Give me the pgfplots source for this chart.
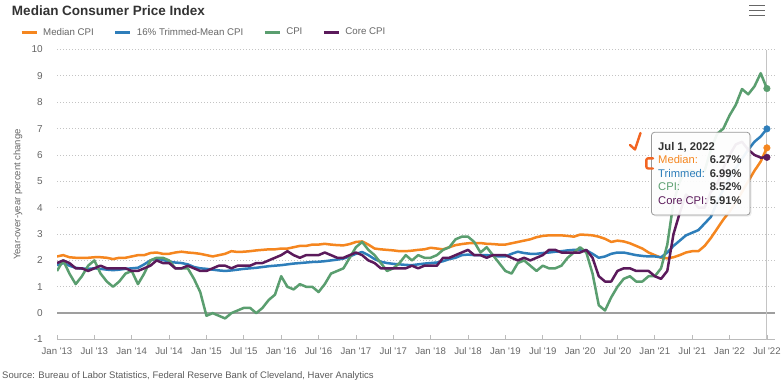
\documentclass[border=0pt]{standalone}
\usepackage{fontspec}
\setmainfont{Liberation Sans}[Ligatures=TeXOff]
\usepackage{pgfplots}
\pgfplotsset{compat=1.18}
\usepackage{pgfplotstable}

\definecolor{cMed}{HTML}{F5861F}
\definecolor{cTrim}{HTML}{2E7EBA}
\definecolor{cCPI}{HTML}{5A9E6F}
\definecolor{cCore}{HTML}{5B1A5B}
\definecolor{txtdark}{HTML}{333333}
\definecolor{txtgray}{HTML}{666666}
\definecolor{gridc}{HTML}{C4C4C4}
\definecolor{axisc}{HTML}{BBBBBB}
\definecolor{annot}{HTML}{F26522}

\pgfplotstableread{
m med trim cpi core
0 2.15 1.82 1.6 1.9
1 2.20 1.90 2.0 2.0
2 2.12 1.80 1.5 1.9
3 2.10 1.72 1.1 1.7
4 2.10 1.69 1.4 1.7
5 2.10 1.68 1.8 1.6
6 2.12 1.70 2.0 1.7
7 2.12 1.68 1.5 1.8
8 2.10 1.65 1.2 1.7
9 2.05 1.63 1.0 1.7
10 2.10 1.65 1.2 1.7
11 2.10 1.68 1.5 1.7
12 2.15 1.70 1.6 1.6
13 2.20 1.72 1.1 1.6
14 2.20 1.85 1.5 1.7
15 2.28 2.00 2.0 1.8
16 2.30 2.07 2.1 2.0
17 2.25 2.02 2.1 1.9
18 2.25 1.95 2.0 1.9
19 2.30 1.92 1.7 1.7
20 2.33 1.90 1.7 1.7
21 2.30 1.85 1.7 1.8
22 2.28 1.75 1.3 1.7
23 2.25 1.70 0.8 1.6
24 2.20 1.68 -0.1 1.6
25 2.15 1.65 0.0 1.7
26 2.20 1.62 -0.1 1.8
27 2.25 1.60 -0.2 1.8
28 2.35 1.62 0.0 1.7
29 2.32 1.65 0.1 1.8
30 2.33 1.68 0.2 1.8
31 2.35 1.70 0.2 1.8
32 2.38 1.72 0.0 1.9
33 2.40 1.75 0.2 1.9
34 2.42 1.78 0.5 2.0
35 2.42 1.80 0.7 2.1
36 2.45 1.82 1.4 2.2
37 2.45 1.85 1.0 2.35
38 2.50 1.88 0.9 2.2
39 2.55 1.90 1.1 2.1
40 2.55 1.92 1.0 2.2
41 2.60 1.94 1.0 2.2
42 2.60 1.95 0.8 2.2
43 2.63 1.97 1.1 2.3
44 2.60 2.00 1.5 2.2
45 2.58 2.03 1.6 2.1
46 2.57 2.07 1.7 2.1
47 2.62 2.15 2.1 2.2
48 2.70 2.25 2.5 2.3
49 2.72 2.32 2.7 2.2
50 2.60 2.20 2.4 2.0
51 2.45 2.05 2.2 1.9
52 2.42 1.95 1.9 1.7
53 2.40 1.90 1.6 1.7
54 2.38 1.87 1.7 1.7
55 2.35 1.85 1.9 1.7
56 2.35 1.83 2.2 1.7
57 2.37 1.82 2.0 1.8
58 2.40 1.85 2.2 1.7
59 2.42 1.88 2.1 1.8
60 2.48 1.90 2.1 1.8
61 2.45 1.92 2.2 1.8
62 2.42 1.97 2.4 2.1
63 2.50 2.05 2.5 2.1
64 2.58 2.10 2.8 2.2
65 2.62 2.20 2.9 2.3
66 2.65 2.22 2.9 2.4
67 2.66 2.20 2.7 2.2
68 2.66 2.20 2.3 2.2
69 2.63 2.20 2.5 2.1
70 2.62 2.18 2.2 2.2
71 2.60 2.15 1.9 2.2
72 2.60 2.15 1.6 2.2
73 2.65 2.25 1.5 2.1
74 2.70 2.33 1.9 2.0
75 2.75 2.28 2.0 2.1
76 2.80 2.25 1.8 2.0
77 2.88 2.25 1.6 2.1
78 2.93 2.28 1.8 2.2
79 2.95 2.30 1.7 2.4
80 2.95 2.33 1.7 2.4
81 2.95 2.35 1.8 2.3
82 2.93 2.38 2.1 2.3
83 2.90 2.40 2.3 2.3
84 2.98 2.40 2.5 2.3
85 2.97 2.38 2.3 2.4
86 2.95 2.25 1.5 2.1
87 2.90 2.10 0.3 1.4
88 2.82 2.15 0.1 1.2
89 2.70 2.25 0.6 1.2
90 2.75 2.30 1.0 1.6
91 2.72 2.30 1.3 1.7
92 2.65 2.25 1.4 1.7
93 2.55 2.20 1.2 1.6
94 2.45 2.17 1.2 1.6
95 2.30 2.15 1.4 1.6
96 2.20 2.15 1.4 1.4
97 2.10 2.12 1.7 1.3
98 2.08 2.30 2.6 1.6
99 2.12 2.55 4.2 3.0
100 2.20 2.75 5.0 3.8
101 2.30 2.95 5.4 4.5
102 2.35 3.05 5.4 4.3
103 2.35 3.15 5.3 4.0
104 2.55 3.40 5.4 4.0
105 2.85 3.65 6.2 4.6
106 3.20 4.20 6.8 4.9
107 3.55 4.70 7.0 5.5
108 3.85 5.10 7.5 6.0
109 4.20 5.50 7.9 6.4
110 4.60 5.85 8.5 6.5
111 5.00 6.20 8.3 6.2
112 5.40 6.50 8.6 6.0
113 5.75 6.70 9.1 5.9
114 6.27 6.99 8.52 5.91
}\cpidata

\begin{document}
\begin{tikzpicture}[x=1pt,y=1pt]
\useasboundingbox (0,0) rectangle (783,381);
\fill[white] (0,0) rectangle (783,381);
\begin{axis}[
  at={(57pt,41.5pt)}, anchor=south west,
  scale only axis, width=718pt, height=290pt,
  xmin=0, xmax=115.3, ymin=-1, ymax=10,
  axis x line*=bottom, axis y line*=left,
  y axis line style={draw=none},
  x axis line style={draw=axisc, line width=0.8pt, -},
  xtick={0,6,...,114},
  xticklabels={Jan '13, Jul '13, Jan '14, Jul '14, Jan '15, Jul '15, Jan '16, Jul '16, Jan '17, Jul '17, Jan '18, Jul '18, Jan '19, Jul '19, Jan '20, Jul '20, Jan '21, Jul '21, Jan '22, Jul '22},
  ytick={-1,0,...,10},
  tick align=inside,
  x tick style={draw=axisc, line width=0.8pt},
  major tick length=5pt,
  y tick style={draw=none},
  ymajorgrids,
  grid style={draw=gridc, line width=0.9pt, dash pattern=on 1pt off 2pt},
  /pgf/number format/assume math mode=true,
  x tick label style={font=\fontsize{9.6}{11}\selectfont, text=txtgray, anchor=north, inner sep=0pt, yshift=-8pt},
  y tick label style={font=\fontsize{10}{12}\selectfont, text=txtgray, anchor=east, inner sep=0pt, xshift=-14pt},
  ylabel={Year-over-year percent change},
  every axis y label/.style={at={(axis description cs:-0.0543,0.5)}, rotate=90, anchor=center, font=\fontsize{9.5}{11}\selectfont, text=txtgray},
  legend columns=4,
  legend image code/.code={\draw[#1, line width=3pt] (0pt,0pt) -- (15pt,0pt);},
  legend style={at={(axis description cs:-0.0515,1.0593)}, anchor=west, draw=none, fill=none,
    inner sep=0pt, nodes={inner sep=0pt, font=\fontsize{9.7}{11}\selectfont, text=txtgray},
    /tikz/every odd column/.append style={column sep=5pt},
    /tikz/every even column/.append style={column sep=20pt}},
  legend cell align=left,
]
\draw[color=gray!75, line width=1.8pt] (axis cs:0,0) -- (axis cs:115.3,0);
\draw[color=gridc, line width=0.9pt] (axis cs:114,-1) -- (axis cs:114,10);
\addplot[cMed, line width=2.5pt, line join=round] table[x=m, y=med] {\cpidata};
\addlegendentry{Median CPI}
\addplot[cTrim, line width=2.5pt, line join=round] table[x=m, y=trim] {\cpidata};
\addlegendentry{16\% Trimmed-Mean CPI}
\addplot[cCPI, line width=2.5pt, line join=round] table[x=m, y=cpi] {\cpidata};
\addlegendentry{CPI}
\addplot[cCore, line width=2.5pt, line join=round] table[x=m, y=core] {\cpidata};
\addlegendentry{Core CPI}
\addplot[forget plot, only marks, mark=*, mark size=3.3pt, cMed] coordinates {(114,6.27)};
\addplot[forget plot, only marks, mark=*, mark size=3.3pt, cTrim] coordinates {(114,6.99)};
\addplot[forget plot, only marks, mark=*, mark size=3.3pt, cCPI] coordinates {(114,8.52)};
\addplot[forget plot, only marks, mark=*, mark size=3.3pt, cCore] coordinates {(114,5.91)};
\end{axis}

% title
\node[anchor=base west, inner sep=0pt, font=\fontsize{13.5}{16}\selectfont\bfseries, text=txtdark] at (11.8,365.5) {Median Consumer Price Index};
% menu icon
\foreach \yy in {375.5,370.5,365.5} \draw[txtgray, line width=1.8pt] (749,\yy) -- (765,\yy);
% source
\node[anchor=base west, inner sep=0pt, font=\fontsize{9.5}{11}\selectfont, text=txtgray!90!black] at (2,2.6) {Source: Bureau of Labor Statistics, Federal Reserve Bank of Cleveland, Haver Analytics};

% tooltip
\fill[black, opacity=0.07, rounded corners=3pt] (653,164.5) rectangle (751.5,247.2);
\draw[fill=white, fill opacity=0.93, draw=black!40, line width=0.8pt, rounded corners=3pt] (651.5,166) rectangle (750,248.7);
\begin{scope}[every node/.style={inner sep=0pt, font=\fontsize{11.2}{13}\selectfont}]
\node[anchor=base west, text=txtdark, font=\fontsize{11.2}{13}\selectfont\bfseries] at (658,231) {Jul 1, 2022};
\node[anchor=base west, text=cMed] at (658,217.7) {Median:};
\node[anchor=base east, text=txtdark, font=\fontsize{11.2}{13}\selectfont\bfseries] at (741.7,217.7) {6.27\%};
\node[anchor=base west, text=cTrim] at (658,204) {Trimmed:};
\node[anchor=base east, text=txtdark, font=\fontsize{11.2}{13}\selectfont\bfseries] at (741.7,204) {6.99\%};
\node[anchor=base west, text=cCPI] at (658,190.3) {CPI:};
\node[anchor=base east, text=txtdark, font=\fontsize{11.2}{13}\selectfont\bfseries] at (741.7,190.3) {8.52\%};
\node[anchor=base west, text=cCore] at (658,177) {Core CPI:};
\node[anchor=base east, text=txtdark, font=\fontsize{11.2}{13}\selectfont\bfseries] at (741.7,177) {5.91\%};
\end{scope}
% hand-drawn marks
\draw[annot, line width=2.4pt, line cap=round, line join=round] (630,236) -- (635,231.5) -- (640.5,248);
\draw[annot, line width=2.4pt, line cap=round, line join=round, rounded corners=2pt] (653,222.7) -- (646.3,222.7) -- (646.3,212.5) -- (653,212.5);
\end{tikzpicture}
\end{document}
